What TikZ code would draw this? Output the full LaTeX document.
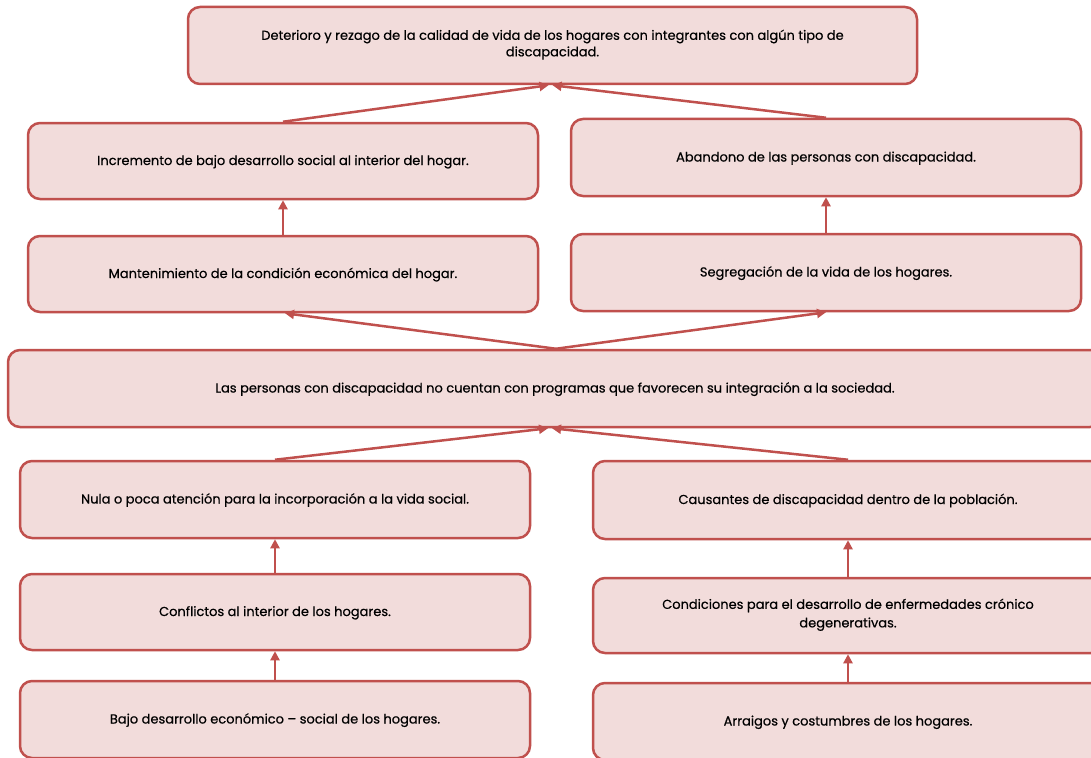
\documentclass[tikz,border=0pt]{standalone}
\usepackage{fontspec}
\setmainfont{Poppins}[FakeBold=0.5,AutoFakeBold=0.5]
\usetikzlibrary{arrows.meta,calc}
\definecolor{bordo}{HTML}{C0504D}
\definecolor{rosa}{HTML}{F2DCDB}
\begin{document}
\begin{tikzpicture}[x=1pt,y=-1pt,
  caja/.style={draw=bordo,fill=rosa,line width=2.5pt,rounded corners=12pt,
    inner sep=0pt,align=center,font=\fontsize{13}{18.5}\selectfont,text=black,
    execute at begin node={\rule[-5pt]{0pt}{18pt}},
    execute at end node={\rule[-5pt]{0pt}{5pt}}},
  doble/.style={execute at begin node={\rule[-5pt]{0pt}{23pt}}},
  flecha/.style={draw=bordo,line width=2.5pt,-{Triangle[length=9pt,width=9pt]}}]
\useasboundingbox (0,0) rectangle (1091,757);
\clip (0,0) rectangle (1091,757);
\fill[white] (0,0) rectangle (1091,757);
% nodes
\node[caja,doble,minimum width=729pt,minimum height=77pt,font=\fontsize{13}{16.5}\selectfont] (top) at (552.5,45.5)
  {Deterioro y rezago de la calidad de vida de los hogares con integrantes con algún tipo de\\discapacidad.};
\node[caja,minimum width=510pt,minimum height=76pt] (inc) at (283,161)
  {Incremento de bajo desarrollo social al interior del hogar.};
\node[caja,minimum width=510pt,minimum height=77pt] (aba) at (826,157.5)
  {Abandono de las personas con discapacidad.};
\node[caja,minimum width=510pt,minimum height=76pt] (man) at (283,274)
  {Mantenimiento de la condición económica del hogar.};
\node[caja,minimum width=510pt,minimum height=77pt] (seg) at (826,272.5)
  {Segregación de la vida de los hogares.};
\node[caja,minimum width=1094pt,minimum height=77pt] (mid) at (555,388.5)
  {Las personas con discapacidad no cuentan con programas que favorecen su integración a la sociedad.};
\node[caja,minimum width=510pt,minimum height=77pt] (nul) at (275,499.5)
  {Nula o poca atención para la incorporación a la vida social.};
\node[caja,minimum width=510pt,minimum height=78pt] (cau) at (848,500)
  {Causantes de discapacidad dentro de la población.};
\node[caja,minimum width=510pt,minimum height=76pt] (con) at (275,612)
  {Conflictos al interior de los hogares.};
\node[caja,doble,minimum width=510pt,minimum height=75pt] (cnd) at (848,615.5)
  {Condiciones para el desarrollo de enfermedades crónico\\degenerativas.};
\node[caja,minimum width=510pt,minimum height=77pt] (baj) at (275,719.5)
  {Bajo desarrollo económico – social de los hogares.};
\node[caja,minimum width=510pt,minimum height=77pt] (arr) at (848,721.5)
  {Arraigos y costumbres de los hogares.};
% connectors
\draw[flecha] (inc.north) -- ($(top.south)+(-4,0)$);
\draw[flecha] (aba.north) -- ($(top.south)+(0,0)$);
\draw[flecha] (man.north) -- (inc.south);
\draw[flecha] (seg.north) -- (aba.south);
\draw[flecha] ($(mid.north)+(1,0)$) -- ($(man.south)+(2,0)$);
\draw[flecha] ($(mid.north)+(1,0)$) -- (seg.south);
\draw[flecha] (nul.north) -- ($(mid.south)+(-7,0)$);
\draw[flecha] (cau.north) -- ($(mid.south)+(-3,0)$);
\draw[flecha] (con.north) -- (nul.south);
\draw[flecha] (baj.north) -- (con.south);
\draw[flecha] (cnd.north) -- (cau.south);
\draw[flecha] (arr.north) -- (cnd.south);
\end{tikzpicture}
\end{document}
